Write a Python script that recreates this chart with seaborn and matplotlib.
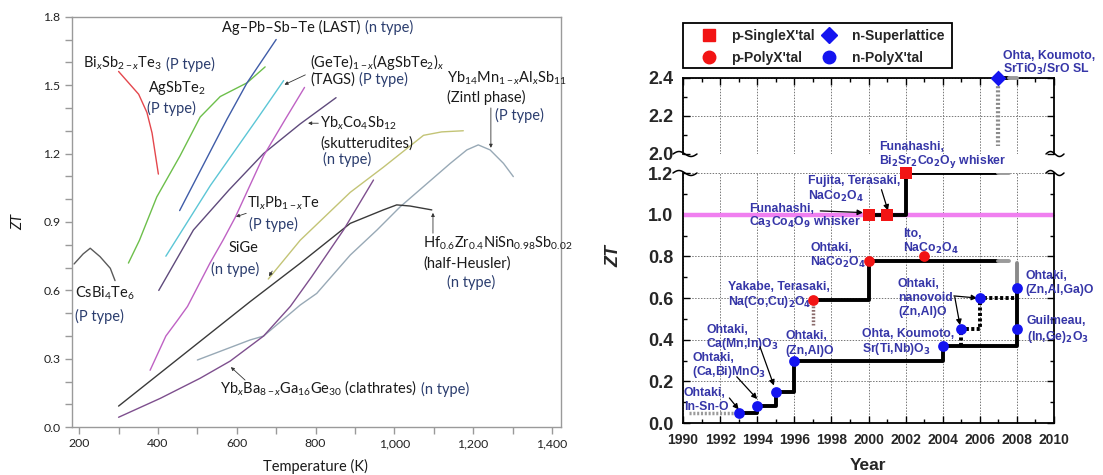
import numpy as np
import pandas as pd
import matplotlib
matplotlib.use("Agg")
import matplotlib.pyplot as plt
import seaborn as sns
from matplotlib.lines import Line2D
from matplotlib.patches import Rectangle
from matplotlib.ticker import MultipleLocator, FuncFormatter

# ---------------- LEFT PANEL DATA: ZT vs temperature ----------------
bisbte_T = [300, 351, 372, 385, 401]
bisbte_ZT = [1.56, 1.46, 1.38, 1.29, 1.11]
agsbte_T = [325, 353, 397, 456, 507, 558, 626, 672]
agsbte_ZT = [0.72, 0.82, 1.01, 1.19, 1.36, 1.45, 1.51, 1.58]
last_T = [455, 575, 626, 700]
last_ZT = [0.95, 1.35, 1.51, 1.70]
tags_T = [420, 533, 651, 719]
tags_ZT = [0.75, 1.06, 1.35, 1.52]
skut_T = [402, 490, 580, 668, 761, 852]
skut_ZT = [0.60, 0.865, 1.04, 1.20, 1.33, 1.445]
tlpbte_T = [380, 420, 450, 475, 505, 532, 565, 596, 668, 723, 772]
tlpbte_ZT = [0.25, 0.40, 0.47, 0.53, 0.63, 0.72, 0.82, 0.92, 1.19, 1.35, 1.49]
sige_T = [680, 761, 888, 972, 1074, 1120, 1175]
sige_ZT = [0.65, 0.82, 1.03, 1.14, 1.28, 1.295, 1.30]
zintl_T = [500, 634, 668, 761, 803, 888, 956, 1015, 1142, 1184, 1213, 1243, 1277, 1302]
zintl_ZT = [0.295, 0.383, 0.40, 0.536, 0.587, 0.755, 0.865, 0.967, 1.157, 1.216, 1.238, 1.216, 1.157, 1.099]
hh_T = [300, 634, 761, 888, 972, 1006, 1040, 1095]
hh_ZT = [0.093, 0.551, 0.719, 0.894, 0.953, 0.975, 0.970, 0.953]
clath_T = [300, 406, 507, 583, 668, 736, 790, 871, 947]
clath_ZT = [0.044, 0.127, 0.215, 0.29, 0.40, 0.53, 0.66, 0.865, 1.084]
csbite_T = [187, 210, 228, 253, 279, 291]
csbite_ZT = [0.716, 0.76, 0.785, 0.748, 0.697, 0.643]

temp_ticks = [200, 400, 600, 800, 1000, 1200, 1400]
zt_ticks_left = [0.0, 0.3, 0.6, 0.9, 1.2, 1.5, 1.8]

# ---------------- RIGHT PANEL DATA: ZT record vs year ----------------
p_single_year = [2000, 2001, 2002]
p_single_zt = [1.00, 1.00, 1.20]
p_poly_year = [1997, 2000, 2003]
p_poly_zt = [0.59, 0.78, 0.80]
n_sl_year = [2007]
n_sl_zt = [2.40]
n_poly_year = [1993, 1994, 1995, 1996, 2004, 2005, 2006, 2008, 2008]
n_poly_zt = [0.05, 0.08, 0.15, 0.30, 0.37, 0.45, 0.60, 0.65, 0.45]

p_single_step_year = [2000, 2002, 2007]
p_single_step_zt = [1.00, 1.20, 1.20]
p_poly_step_year = [1997, 2000, 2007]
p_poly_step_zt = [0.59, 0.78, 0.78]
n_step_year = [1993, 1994, 1995, 1996, 2004, 2008]
n_step_zt = [0.05, 0.08, 0.15, 0.30, 0.37, 0.65]
nanovoid_year = [2005, 2005, 2006, 2006, 2008]
nanovoid_zt = [0.37, 0.45, 0.45, 0.60, 0.60]
sl_line_year = [2007, 2007.6]
sl_line_zt = [2.40, 2.40]
year_ticks = list(range(1990, 2011, 2))

W, H = 1103, 475

sns.set_theme(style="ticks")
plt.rcParams["font.family"] = ["Lato", "DejaVu Sans"]
plt.rcParams["mathtext.fontset"] = "custom"
plt.rcParams["mathtext.rm"] = "Lato"
plt.rcParams["mathtext.it"] = "Lato:italic"
plt.rcParams["mathtext.bf"] = "Lato:bold"

fig = plt.figure(figsize=(W / 100, H / 100), dpi=100)


def fr(x0, y0, x1, y1):
    return [x0 / W, 1 - y1 / H, (x1 - x0) / W, (y1 - y0) / H]


axL = fig.add_axes(fr(71.7, 16.7, 561, 427.3))
axU = fig.add_axes(fr(683, 78, 1054, 154))
axB = fig.add_axes(fr(683, 173, 1054, 423))

# ================= LEFT PANEL =================
curves = {
    "BiSbTe": (bisbte_T, bisbte_ZT, "#e4474d"),
    "AgSbTe2": (agsbte_T, agsbte_ZT, "#6dbf4b"),
    "LAST": (last_T, last_ZT, "#3f5ca8"),
    "TAGS": (tags_T, tags_ZT, "#5cc6d6"),
    "skut": (skut_T, skut_ZT, "#5f4a7c"),
    "TlPbTe": (tlpbte_T, tlpbte_ZT, "#bf62c4"),
    "SiGe": (sige_T, sige_ZT, "#c3c476"),
    "zintl": (zintl_T, zintl_ZT, "#98a9b6"),
    "hh": (hh_T, hh_ZT, "#3a3a3a"),
    "clath": (clath_T, clath_ZT, "#7e4f8e"),
    "csbite": (csbite_T, csbite_ZT, "#5a5a5a"),
}
rows = []
for name, (T, Z, c) in curves.items():
    for t, z in zip(T, Z):
        rows.append((name, t, z))
dfL = pd.DataFrame(rows, columns=["material", "T", "ZT"])
sns.lineplot(data=dfL, x="T", y="ZT", hue="material",
             palette={k: v[2] for k, v in curves.items()},
             sort=False, estimator=None, legend=False, lw=1.0, ax=axL)

axL.set_xlim(181, 1423)
axL.set_ylim(0, 1.8)
axL.set_xticks(temp_ticks)
axL.set_yticks(zt_ticks_left)
axL.xaxis.set_minor_locator(MultipleLocator(100))
axL.yaxis.set_minor_locator(MultipleLocator(0.1))
axL.xaxis.set_major_formatter(FuncFormatter(lambda v, _: f"{int(round(v)):,}"))
axL.yaxis.set_major_formatter(FuncFormatter(lambda v, _: f"{v:.1f}"))
GR = "#9a9a9a"
for s in axL.spines.values():
    s.set_color(GR)
    s.set_linewidth(1.0)
axL.tick_params(which="both", direction="out", length=5, width=1, color=GR,
                labelsize=8.8, labelcolor="#222222", pad=3)
axL.set_xlabel("")
axL.set_ylabel("")
fig.text(315 / W, 1 - 466 / H, "Temperature (K)", fontsize=10.5, ha="center",
         va="center", color="#1a1a1a")
fig.text(18 / W, 1 - 222 / H, "ZT", fontsize=10.5, style="italic", rotation=90,
         ha="center", va="center", color="#1a1a1a")

TXT = "#1a1a1a"
TYP = "#2b3d6e"
FS = 10.5


def lab(x, y, s, color=TXT):
    return axL.text(x, y, s, fontsize=FS, color=color, ha="left", va="center")


def two_tone(x, y, main, typ):
    t = lab(x, y, main)
    axL.annotate(typ, xy=(1, 0), xycoords=t, xytext=(3, 0),
                 textcoords="offset points", fontsize=FS, color=TYP,
                 ha="left", va="bottom")


def larrow(x0, y0, x1, y1):
    axL.annotate("", xy=(x1, y1), xytext=(x0, y0),
                 arrowprops=dict(arrowstyle="-|>", lw=0.6, color="#333333",
                                 mutation_scale=5, shrinkA=0, shrinkB=0))


two_tone(210, 1.597, r"Bi$_x$Sb$_{2-x}$Te$_3$", "(P type)")
two_tone(563, 1.751, "Ag–Pb–Sb–Te (LAST)", "(n type)")
lab(375, 1.487, r"AgSbTe$_2$")
lab(373, 1.399, "(P type)", TYP)
lab(786, 1.602, r"(GeTe)$_{1-x}$(AgSbTe$_2$)$_x$")
two_tone(786, 1.523, "(TAGS)", "(P type)")
larrow(774, 1.545, 721, 1.502)
lab(1134, 1.531, r"Yb$_{14}$Mn$_{1-x}$Al$_x$Sb$_{11}$")
lab(1134, 1.448, "(Zintl phase)")
lab(1256, 1.365, "(P type)", TYP)
larrow(1245, 1.40, 1245, 1.225)
lab(812, 1.334, r"Yb$_x$Co$_4$Sb$_{12}$")
lab(812, 1.246, "(skutterudites)")
lab(819, 1.176, "(n type)", TYP)
larrow(807, 1.333, 781, 1.333)
lab(626, 0.983, r"Tl$_x$Pb$_{1-x}$Te")
lab(631, 0.891, "(P type)", TYP)
larrow(624, 0.938, 598, 0.923)
lab(578, 0.786, "SiGe")
lab(535, 0.690, "(n type)", TYP)
larrow(690, 0.685, 682, 0.662)
lab(190, 0.589, r"CsBi$_4$Te$_6$")
lab(190, 0.484, "(P type)", TYP)
lab(1073, 0.808, r"Hf$_{0.6}$Zr$_{0.4}$NiSn$_{0.98}$Sb$_{0.02}$")
lab(1073, 0.720, "(half-Heusler)")
lab(1134, 0.637, "(n type)", TYP)
larrow(1098, 0.851, 1098, 0.940)
two_tone(558, 0.172, r"Yb$_x$Ba$_{8-x}$Ga$_{16}$Ge$_{30}$ (clathrates)", "(n type)")
larrow(621, 0.207, 585, 0.264)

# ================= RIGHT PANEL =================
RF = ["Liberation Sans", "DejaVu Sans"]
RED = "#f21414"
BLUE = "#1414f0"
TR = "#3636a8"

for ax in (axU, axB):
    ax.set_xlim(1990, 2010)
    ax.set_xticks(year_ticks)
    ax.xaxis.set_minor_locator(MultipleLocator(1))
    ax.yaxis.set_minor_locator(MultipleLocator(0.1))
    ax.grid(True, which="major", ls=(0, (1.5, 1.5)), color="#777777", lw=0.7)
    for s in ax.spines.values():
        s.set_color("black")
        s.set_linewidth(1.3)
    ax.tick_params(which="both", direction="in", top=True, right=True,
                   color="black", width=1)
    ax.tick_params(which="major", length=5)
    ax.tick_params(which="minor", length=3)
    ax.set_xlabel("")
    ax.set_ylabel("")

axU.set_ylim(2.0, 2.4)
axU.set_yticks([2.0, 2.2, 2.4])
axU.spines["bottom"].set_visible(False)
axU.tick_params(axis="x", which="both", bottom=False, labelbottom=False)
axB.set_ylim(0, 1.2)
axB.set_yticks([0.0, 0.2, 0.4, 0.6, 0.8, 1.0, 1.2])
axB.spines["top"].set_visible(False)
axB.tick_params(axis="x", which="both", top=False)
for ax in (axU, axB):
    ax.yaxis.set_major_formatter(FuncFormatter(lambda v, _: f"{v:.1f}"))
    for t in ax.get_yticklabels():
        t.set_fontfamily(RF)
        t.set_fontweight("bold")
        t.set_fontsize(13)
    ax.tick_params(axis="y", pad=7)
for t in axB.get_xticklabels():
    t.set_fontfamily(RF)
    t.set_fontweight("bold")
    t.set_fontsize(10)
axB.tick_params(axis="x", pad=7)

# magenta reference line ZT = 1
axB.axhline(1.0, color="#f07ff0", lw=3.2, zorder=2)

# record step lines
sns.lineplot(x=n_step_year, y=n_step_zt, drawstyle="steps-post", sort=False,
             estimator=None, color="black", lw=2.8, ax=axB, zorder=3)
sns.lineplot(x=p_poly_step_year, y=p_poly_step_zt, drawstyle="steps-post",
             sort=False, estimator=None, color="black", lw=2.8, ax=axB, zorder=3)
sns.lineplot(x=p_single_step_year, y=p_single_step_zt, drawstyle="steps-post",
             sort=False, estimator=None, color="black", lw=2.8, ax=axB, zorder=3)
axB.plot(nanovoid_year, nanovoid_zt, color="black", lw=2.8,
         ls=(0, (0.8, 0.6)), zorder=3)
# faded continuations
axB.plot([2007, 2007.6], [1.2, 1.2], color="#9a9a9a", lw=2.8, zorder=3)
axB.plot([2007, 2007.6], [0.78, 0.78], color="#9a9a9a", lw=2.8, zorder=3)
axB.plot([2008, 2008], [0.65, 0.77], color="#8a8a8a", lw=2.8, zorder=3)
axB.plot([1990.3, 1993], [0.05, 0.05], color="#9a9a9a", lw=2.5,
         ls=(0, (0.6, 0.5)), zorder=3)
axB.plot([1997, 1997], [0.56, 0.47], color="#8a6a6a", lw=2.5,
         ls=(0, (0.5, 0.5)), zorder=3)
axU.plot(sl_line_year, sl_line_zt, color="black", lw=2.8, zorder=3, clip_on=False)
axU.plot([2007.6, 2008], [2.4, 2.4], color="#9a9a9a", lw=2.8, zorder=3, clip_on=False)
axU.plot([2007, 2007], [2.38, 2.04], color="#8a8a8a", lw=3,
         ls=(0, (0.5, 0.5)), zorder=3)

# markers
kinds = {"p-SingleX'tal": ("s", RED), "p-PolyX'tal": ("o", RED),
         "n-Superlattice": ("D", BLUE), "n-PolyX'tal": ("o", BLUE)}
dfM = pd.DataFrame({
    "year": p_single_year + p_poly_year + n_poly_year,
    "zt": p_single_zt + p_poly_zt + n_poly_zt,
    "kind": ["p-SingleX'tal"] * 3 + ["p-PolyX'tal"] * 3 + ["n-PolyX'tal"] * 9,
})
for k, sz in (("p-SingleX'tal", 75), ("p-PolyX'tal", 60), ("n-PolyX'tal", 60)):
    sub = dfM[dfM.kind == k]
    sns.scatterplot(data=sub, x="year", y="zt", marker=kinds[k][0],
                    color=kinds[k][1], s=sz, linewidth=0, ax=axB, zorder=5,
                    clip_on=False, legend=False)
sns.scatterplot(x=n_sl_year, y=n_sl_zt, marker="D", color=BLUE, s=65,
                linewidth=0, ax=axU, zorder=5, clip_on=False, legend=False)
for ax in (axU, axB):
    ax.set_xlabel("")
    ax.set_ylabel("")

# legend (frameless, with a separate box so item positions match)
fig.add_artist(Rectangle((683 / W, 1 - 68 / H), 269 / W, 45 / H,
                         transform=fig.transFigure, facecolor="white",
                         edgecolor="black", lw=1.3, zorder=1))
handles = [Line2D([], [], ls="none", marker=kinds[k][0], color=kinds[k][1],
                  markersize=9 if kinds[k][0] != "D" else 8) for k in kinds]
leg = fig.legend(handles, list(kinds.keys()), ncol=2, loc="upper left",
                 bbox_to_anchor=(699 / W, 1 - 29 / H), borderaxespad=0,
                 frameon=False, borderpad=0, handlelength=1.44,
                 handletextpad=0.9, columnspacing=0.3, labelspacing=0.55,
                 prop=dict(family=RF, weight="bold", size=10))
leg.set_zorder(2)

# annotations
RS = 8.8


def rlab(ax, x, y, lines, dy=10.5):
    for i, s in enumerate(lines):
        ax.annotate(s, xy=(x, y), xytext=(0, -i * dy), textcoords="offset points",
                    fontsize=RS, fontweight="bold", color=TR, family=RF,
                    math_fontfamily="dejavusans", ha="left", va="center",
                    annotation_clip=False)


def rarrow(ax, x0, y0, x1, y1):
    ax.annotate("", xy=(x1, y1), xytext=(x0, y0), annotation_clip=False,
                arrowprops=dict(arrowstyle="-|>", lw=0.9, color="black",
                                mutation_scale=8, shrinkA=0, shrinkB=0))


rlab(axB, 1993.56, 1.027, ["Funahashi,", r"Ca$_\mathbf{3}$Co$_\mathbf{4}$O$_\mathbf{9}$ whisker"], 9.5)
rarrow(axB, 1997.4, 1.018, 1999.7, 1.010)
rlab(axB, 1996.74, 1.162, ["Fujita, Terasaki,", r"NaCo$_\mathbf{2}$O$_\mathbf{4}$"], 11.5)
rarrow(axB, 2000.7, 1.12, 2001.05, 1.02)
rlab(axB, 2000.57, 1.325, ["Funahashi,", r"Bi$_\mathbf{2}$Sr$_\mathbf{2}$Co$_\mathbf{2}$O$_\mathbf{y}$ whisker"], 10.8)
rlab(axB, 1996.85, 0.840, ["Ohtaki,", r"NaCo$_\mathbf{2}$O$_\mathbf{4}$"], 10.2)
rlab(axB, 2001.86, 0.907, ["Ito,", r"NaCo$_\mathbf{2}$O$_\mathbf{4}$"], 10.2)
rlab(axB, 1992.43, 0.653, ["Yakabe, Terasaki,", r"Na(Co,Cu)$_\mathbf{2}$O$_\mathbf{4}$"], 10.8)
rlab(axB, 2001.59, 0.667, ["Ohtaki,", "nanovoid", "(Zn,Al)O"], 10.2)
rarrow(axB, 2004.6, 0.61, 2005.85, 0.60)
rarrow(axB, 2004.65, 0.605, 2004.93, 0.47)
rlab(axB, 1999.65, 0.427, ["Ohta, Koumoto,", r"Sr(Ti,Nb)O$_\mathbf{3}$"], 10.8)
rlab(axB, 2008.44, 0.706, ["Ohtaki,", "(Zn,Al,Ga)O"], 10.2)
rlab(axB, 2008.54, 0.490, ["Guilmeau,", r"(In,Ge)$_\mathbf{2}$O$_\mathbf{3}$"], 11.5)
rlab(axB, 1995.50, 0.418, ["Ohtaki,", "(Zn,Al)O"], 10.8)
rlab(axB, 1991.24, 0.446, ["Ohtaki,", r"Ca(Mn,In)O$_\mathbf{3}$"], 10.2)
rarrow(axB, 1994.15, 0.366, 1994.9, 0.18)
rlab(axB, 1990.49, 0.312, ["Ohtaki,", r"(Ca,Bi)MnO$_\mathbf{3}$"], 10.2)
rarrow(axB, 1992.9, 0.222, 1994.0, 0.115)
rlab(axB, 1990.05, 0.144, ["Ohtaki,", "In-Sn-O"], 10.2)
rarrow(axB, 1992.5, 0.12, 1993.0, 0.065)
rlab(axU, 2007.25, 2.517, ["Ohta, Koumoto,", r"SrTiO$_\mathbf{3}$/SrO SL"], 9.5)

fig.text(614 / W, 1 - 256 / H, "ZT", fontsize=13, fontweight="bold",
         style="italic", rotation=90, ha="center", va="center", family=RF)
fig.text(868 / W, 1 - 465 / H, "Year", fontsize=12.5, fontweight="bold",
         ha="center", va="center", family=RF)


# axis break marks
def wave(x0, x1, y):
    u = np.linspace(0, 1, 40)
    px = x0 + (x1 - x0) * u
    py = y - 2.5 * np.sin(2 * np.pi * u)
    fig.add_artist(Line2D(px / W, 1 - py / H, color="black", lw=1.1,
                          transform=fig.transFigure))


for yy in (154, 173):
    wave(673, 697, yy)
    wave(1046, 1064, yy)

fig.savefig("out.png", dpi=100)
